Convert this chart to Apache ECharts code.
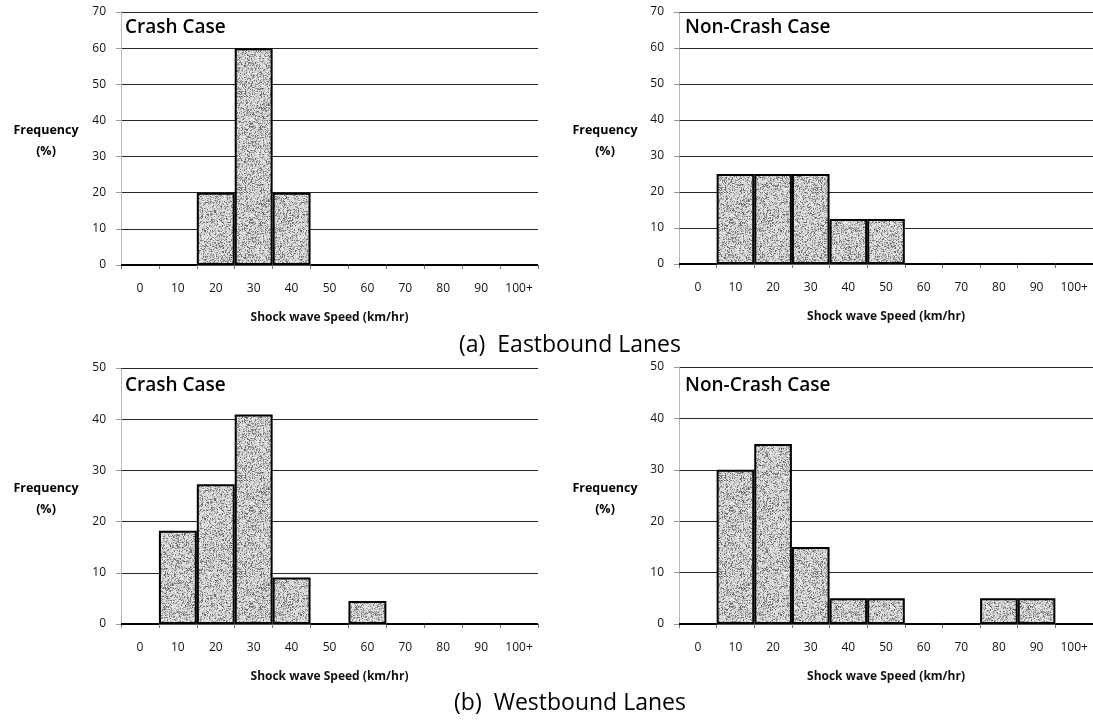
<!DOCTYPE html>
<html>
<head>
<meta charset="utf-8">
<script src="https://cdn.jsdelivr.net/npm/echarts@6/dist/echarts.min.js"></script>
<style>
  html, body { margin: 0; padding: 0; background: #ffffff; }
  #chart { width: 1093px; height: 720px; }
</style>
</head>
<body>
<div id="chart"></div>
<script>
// Shock wave speed bins (km/hr)
const speedBins = ['0', '10', '20', '30', '40', '50', '60', '70', '80', '90', '100+'];

// Frequency (%) per bin
const eastCrash    = [0, 0, 20, 60, 20, 0, 0, 0, 0, 0, 0];
const eastNonCrash = [0, 25, 25, 25, 12.5, 12.5, 0, 0, 0, 0, 0];
const westCrash    = [0, 18.2, 27.3, 40.9, 9.1, 0, 4.5, 0, 0, 0, 0];
const westNonCrash = [0, 30, 35, 15, 5, 5, 0, 0, 5, 5, 0];

const panelTitles = ['Crash Case', 'Non-Crash Case', 'Crash Case', 'Non-Crash Case'];
const yMax = [70, 70, 50, 50];
const captions = ['(a)  Eastbound Lanes', '(b)  Westbound Lanes'];
const xAxisTitle = 'Shock wave Speed (km/hr)';
const yAxisTitle = 'Frequency\n(%)';

const FONT = '"Open Sans", Lato, sans-serif';

// Speckled grey fill for the histogram bars
function speckle() {
  const c = document.createElement('canvas');
  c.width = 96; c.height = 96;
  const g = c.getContext('2d');
  g.fillStyle = '#d6d6d6';
  g.fillRect(0, 0, c.width, c.height);
  const hash = (n) => { const s = Math.sin(n * 12.9898) * 43758.5453; return s - Math.floor(s); };
  let k = 1;
  for (let y = 0; y < c.height; y++) {
    for (let x = 0; x < c.width; x++) {
      const v = hash(k++);
      if (v < 0.36) {
        const shade = Math.floor(95 + hash(k++) * 95);
        g.fillStyle = 'rgb(' + shade + ',' + shade + ',' + shade + ')';
        g.fillRect(x, y, 1, 1);
      } else if (v > 0.86) {
        g.fillStyle = '#efefef';
        g.fillRect(x, y, 1, 1);
      }
    }
  }
  return c;
}
const barFill = { image: speckle(), repeat: 'repeat' };

const grids = [
  { left: 121, top: 12,  width: 417, height: 253 },
  { left: 679, top: 12,  width: 418, height: 252 },
  { left: 121, top: 368, width: 417, height: 256 },
  { left: 679, top: 367, width: 418, height: 257 }
];
const seriesData = [eastCrash, eastNonCrash, westCrash, westNonCrash];

const chart = echarts.init(document.getElementById('chart'), null, { renderer: 'canvas' });

function label(text, x, y, size, weight, align) {
  return {
    type: 'text',
    x: x,
    y: y,
    z: 10,
    style: {
      text: text,
      fontFamily: FONT,
      fontSize: size,
      fontWeight: weight,
      fill: '#000',
      align: align,
      verticalAlign: 'middle',
      lineHeight: Math.round(size * 1.7)
    }
  };
}

const option = {
  animation: false,
  backgroundColor: '#ffffff',
  grid: grids.map(g => Object.assign({ containLabel: false }, g)),
  xAxis: grids.map((g, i) => ({
    type: 'category',
    gridIndex: i,
    data: speedBins,
    boundaryGap: true,
    name: xAxisTitle,
    nameLocation: 'middle',
    nameGap: 47,
    nameTextStyle: { fontFamily: FONT, fontSize: 12, fontWeight: 'bold', color: '#111' },
    axisLine: { show: true, lineStyle: { color: '#555', width: 1 } },
    axisTick: { show: true, length: 4, lineStyle: { color: '#777' } },
    axisLabel: { margin: 18, fontFamily: FONT, fontSize: 12, color: '#111', interval: 0 },
    splitLine: { show: false }
  })),
  yAxis: grids.map((g, i) => ({
    type: 'value',
    gridIndex: i,
    min: 0,
    max: yMax[i],
    interval: 10,
    axisLine: { show: true, lineStyle: { color: '#aaa', width: 1, type: 'dotted' } },
    axisTick: { show: true, length: 5, lineStyle: { color: '#999' } },
    axisLabel: { margin: 15, fontFamily: FONT, fontSize: 12, color: '#111' },
    splitLine: { show: true, lineStyle: { color: '#262626', width: 1 } }
  })),
  series: seriesData.map((d, i) => ({
    type: 'bar',
    xAxisIndex: i,
    yAxisIndex: i,
    data: d,
    barCategoryGap: '0%',
    itemStyle: { color: barFill, borderColor: '#000', borderWidth: 2 },
    z: 3
  })),
  graphic: [
    label(panelTitles[0], 125, 28, 19, 600, 'left'),
    label(panelTitles[1], 685, 28, 19, 600, 'left'),
    label(panelTitles[2], 125, 386, 19, 600, 'left'),
    label(panelTitles[3], 685, 386, 19, 600, 'left'),
    label(captions[0], 570, 345, 23, 'normal', 'center'),
    label(captions[1], 570, 703, 23, 'normal', 'center'),
    label(yAxisTitle, 46, 141, 12.5, 'bold', 'center'),
    label(yAxisTitle, 605, 141, 12.5, 'bold', 'center'),
    label(yAxisTitle, 46, 499, 12.5, 'bold', 'center'),
    label(yAxisTitle, 605, 499, 12.5, 'bold', 'center')
  ]
};

chart.setOption(option);
</script>
</body>
</html>
